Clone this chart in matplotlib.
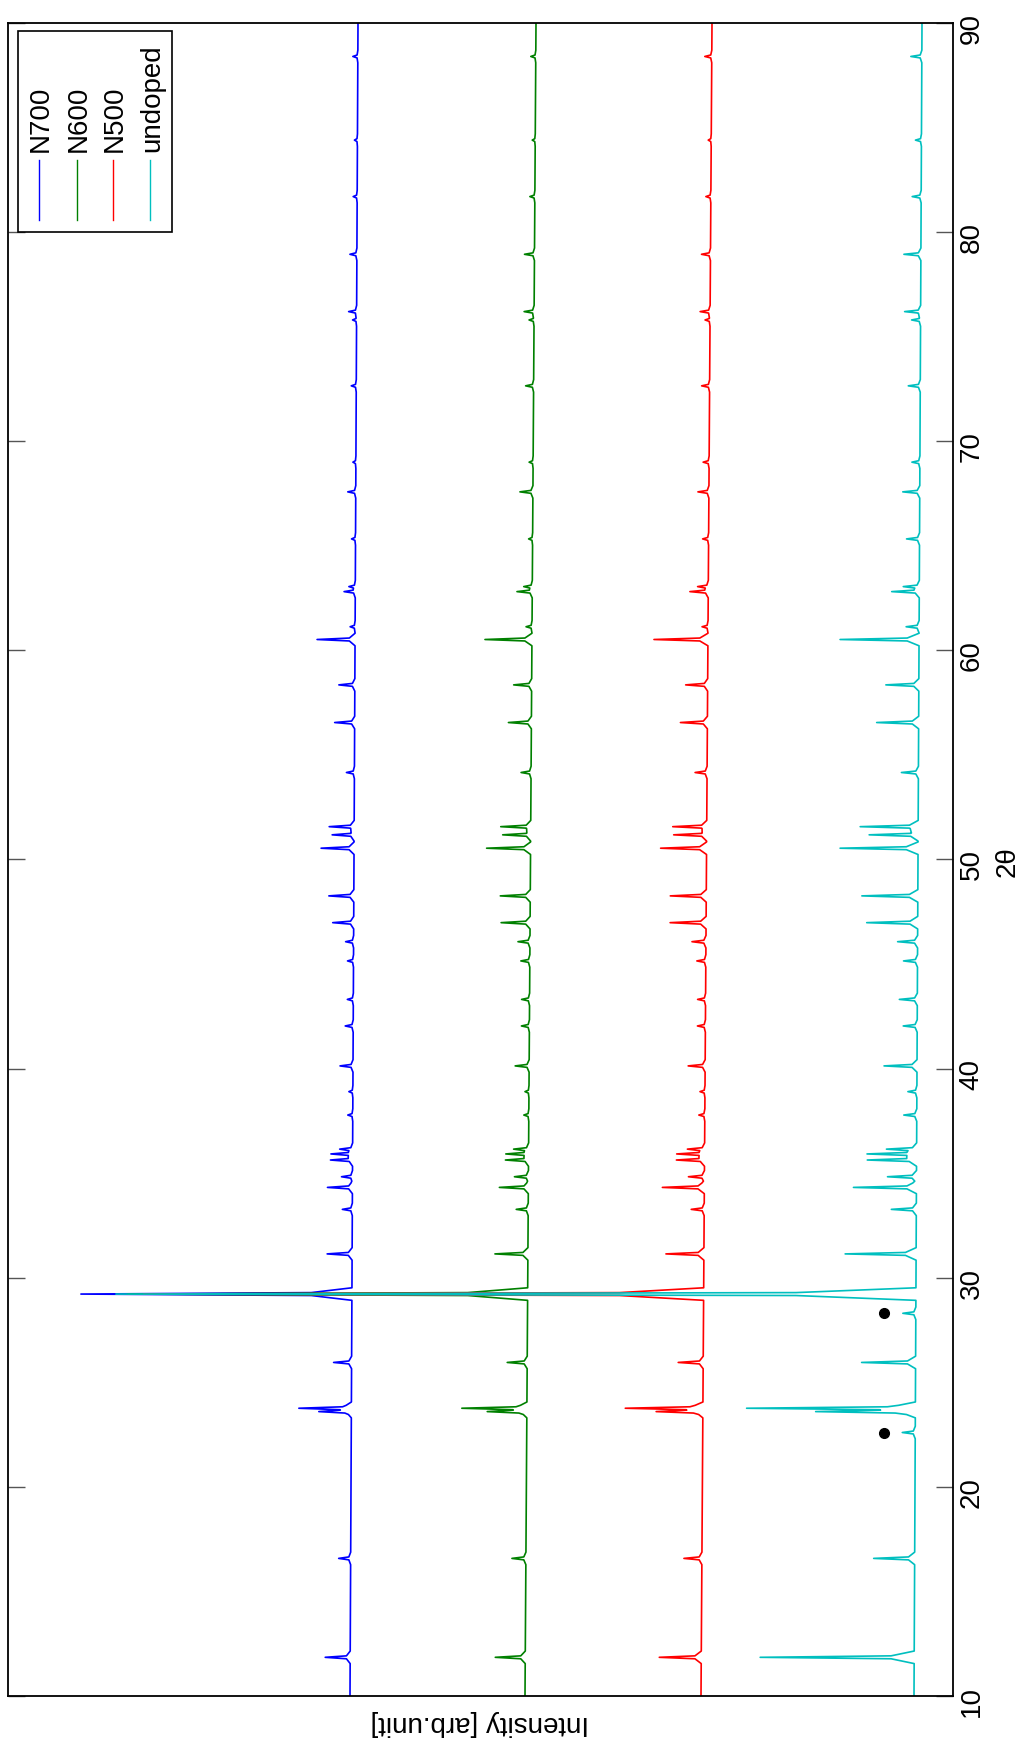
import numpy as np
import matplotlib
matplotlib.use('Agg')
import matplotlib.pyplot as plt
from matplotlib.patches import Rectangle
from matplotlib.lines import Line2D

plt.rcParams['font.family'] = ['Liberation Sans', 'DejaVu Sans']

# peak positions (2theta in degrees)
peak_pos = [11.85, 16.58, 22.60, 23.60, 23.76, 25.95, 28.30, 29.22, 31.14, 33.27,
            34.32, 34.83, 35.63, 35.92, 36.15, 37.78, 38.90, 40.13, 42.04, 43.31,
            45.15, 46.07, 46.98, 48.26, 50.54, 51.18, 51.57, 54.16, 56.55, 58.35,
            60.52, 61.13, 62.81, 63.05, 65.33, 67.58, 69.00, 72.65, 75.80, 76.20,
            78.94, 81.70, 84.40, 88.40]

# peak heights above background (arb. units)
h_n700 = [25, 12, 0, 28, 50, 18, 0, 271, 25, 10,
          25, 11, 22, 21, 12, 5, 4, 13, 8, 6,
          6, 8, 21, 25, 33, 22, 25, 8, 20, 16,
          38, 5, 11, 6, 4, 8, 3, 5, 4, 8,
          7, 4, 3, 5]
h_n600 = [30, 14, 0, 34, 62, 20, 0, 400, 33, 12,
          29, 14, 23, 22, 14, 5, 4, 14, 8, 8,
          9, 12, 29, 30, 44, 28, 30, 10, 23, 18,
          47, 6, 15, 8, 4, 13, 4, 8, 5, 10,
          10, 5, 3, 5]
h_n500 = [42, 18, 0, 40, 74, 25, 0, 560, 38, 13,
          42, 16, 28, 27, 16, 6, 5, 17, 8, 8,
          9, 14, 36, 36, 46, 33, 34, 12, 27, 22,
          54, 6, 18, 10, 6, 11, 6, 8, 5, 10,
          9, 5, 3, 7]
h_undoped = [154, 41, 13, 85, 161, 54, 13, 800, 71, 25,
             63, 29, 49, 48, 28, 13, 9, 33, 14, 18,
             14, 20, 51, 56, 78, 49, 58, 17, 42, 33,
             79, 13, 27, 15, 13, 17, 8, 12, 9, 16,
             17, 9, 6, 11]

# background level at 2theta = 10 and 90
bg_ends = [10, 90]
bg_n700 = [603, 595]
bg_n600 = [428, 417]
bg_n500 = [252, 241]
bg_undoped = [39, 31]

# black dots marking the impurity peaks of the undoped sample
dot_2theta = [22.58, 28.32]
dot_int = [69, 69]

names = ['N700', 'N600', 'N500', 'undoped']
colors = ['#0000ff', '#008000', '#ff0000', '#00bfbf']

# simple piecewise linear peak profile
shape_dx = [-0.30, -0.07, 0.0, 0.07, 0.30]
shape_f = [0.0, 0.15, 1.0, 0.15, 0.0]


def pattern(heights, bg):
    x = np.concatenate([[10.0], np.add.outer(peak_pos, shape_dx).ravel(), [90.0]])
    x = np.unique(np.clip(x, 10, 90))
    y = np.interp(x, bg_ends, bg)
    for p, h in zip(peak_pos, heights):
        y = y + h * np.interp(x - p, shape_dx, shape_f)
    return x, y


W, H = 1027, 1742
fig = plt.figure(figsize=(W / 100, H / 100), dpi=100)
ax = fig.add_axes([8 / W, 1 - 1696 / H, 945 / W, 1673 / H])


def fx(px):
    return px / W


def fy(py):
    return 1 - py / H


series = [(h_n700, bg_n700), (h_n600, bg_n600), (h_n500, bg_n500), (h_undoped, bg_undoped)]
for (hs, bg), c in zip(series, colors):
    tt, inten = pattern(hs, bg)
    ax.plot(inten, tt, color=c, lw=1.2)

ax.plot(dot_int, dot_2theta, 'o', color='black', ms=7)

ax.set_xlim(945, 0)
ax.set_ylim(10, 90)
ax.set_xticks([])
ax.set_yticks(range(10, 91, 10))
ax.tick_params(axis='y', direction='in', length=12, width=1, color='#555555',
               left=True, right=True, labelleft=False, labelright=True,
               labelrotation=90, labelsize=20, pad=4)
for s in ax.spines.values():
    s.set_linewidth(1.3)

fig.text(fx(1008), fy(862), '2θ', rotation=90, ha='center', va='center', fontsize=20)
fig.text(fx(480), fy(1723), 'Intensity [arb.unit]', rotation=180, ha='center', va='center', fontsize=20)

# legend, drawn by hand because it is turned on its side
fig.add_artist(Rectangle((fx(18), fy(232)), fx(172) - fx(18), fy(31) - fy(232),
                         transform=fig.transFigure, facecolor='white', edgecolor='black', lw=1.2))
leg_x = [39, 77, 113, 150]
for lx, name, c in zip(leg_x, names, colors):
    fig.add_artist(Line2D([fx(lx), fx(lx)], [fy(160), fy(220)], transform=fig.transFigure, color=c, lw=1.0))
    fig.text(fx(lx + 2), fy(152), name, rotation=90, ha='center', va='bottom', fontsize=20)

fig.savefig('out.png', dpi=100)
